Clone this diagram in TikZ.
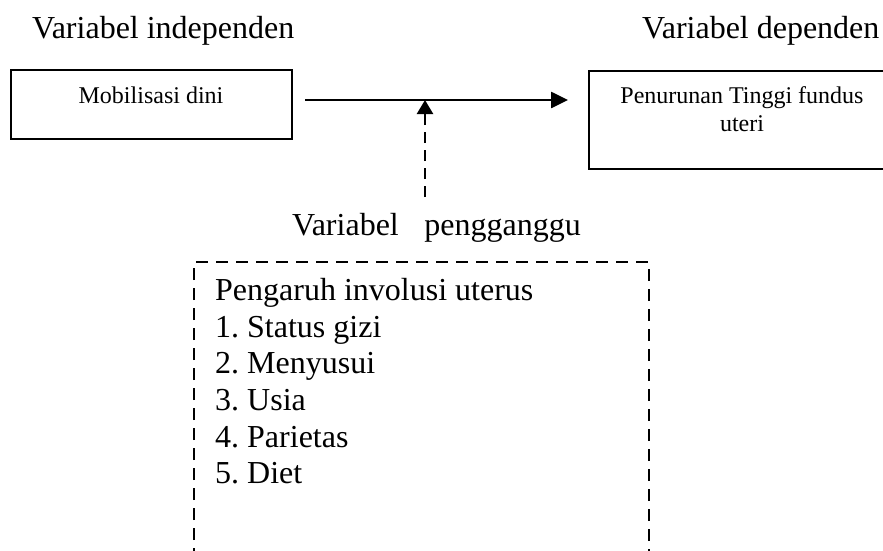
\documentclass[tikz,border=0pt]{standalone}
\usepackage{fontspec}
\setmainfont{Liberation Serif}
\usetikzlibrary{arrows.meta}
\frenchspacing
\tikzset{
  big/.style={inner sep=0pt, anchor=base west, font=\fontsize{32}{38}\selectfont},
  small/.style={inner sep=0pt, font=\fontsize{24}{28}\selectfont},
  solidbox/.style={draw, line width=1.8pt},
  dashbox/.style={draw, line width=1.8pt, dash pattern=on 12pt off 8pt},
  mainarrow/.style={line width=2.6pt, -{Triangle[length=17pt,width=16pt]}},
  dasharrow/.style={line width=2.4pt, dash pattern=on 11pt off 7pt, -{Triangle[length=14pt,width=16pt]}}
}
\begin{document}
\begin{tikzpicture}[x=1pt,y=-1pt]
\clip (0,0) rectangle (883,551);
\fill[white] (0,0) rectangle (883,551);
% headers
\node[big] (hind) at (32,38) {Variabel independen};
\node[big] (hdep) at (642,38) {Variabel dependen};
% left box
\node[solidbox, minimum width=281pt, minimum height=69pt, inner sep=0pt] (lbox) at (151.5,104.5) {};
\node[small, anchor=base] (ltext) at (151,103) {Mobilisasi dini};
% right box
\node[solidbox, minimum width=320pt, minimum height=98pt, inner sep=0pt, anchor=north west] (rbox) at (588,70) {};
\node[small, anchor=base] (rtext1) at (742,103) {Penurunan Tinggi fundus};
\node[small, anchor=base] (rtext2) at (742,131) {uteri};
% arrows
\coordinate (astart) at (305,100);
\coordinate (aend) at (568,100);
\coordinate (mid) at (425,100);
\coordinate (dstart) at (425,197);
\draw[mainarrow] (astart) -- (aend);
\draw[dasharrow] (dstart) -- (mid);
% confounding label
\node[big] (hconf) at (292,235) {Variabel\hspace{0.8em}pengganggu};
% dashed box (open at bottom)
\coordinate (bl) at (194,560);
\coordinate (tl) at (194,262);
\coordinate (tr) at (649,262);
\coordinate (br) at (649,560);
\draw[dashbox] (bl) -- (tl) -- (tr) -- (br);
\node[big] (l0) at (215,300) {Pengaruh involusi uterus};
\node[big] (l1) at (215,337) {1. Status gizi};
\node[big] (l2) at (215,373) {2. Menyusui};
\node[big] (l3) at (215,410) {3. Usia};
\node[big] (l4) at (215,447) {4. Parietas};
\node[big] (l5) at (215,483) {5. Diet};
\end{tikzpicture}
\end{document}
